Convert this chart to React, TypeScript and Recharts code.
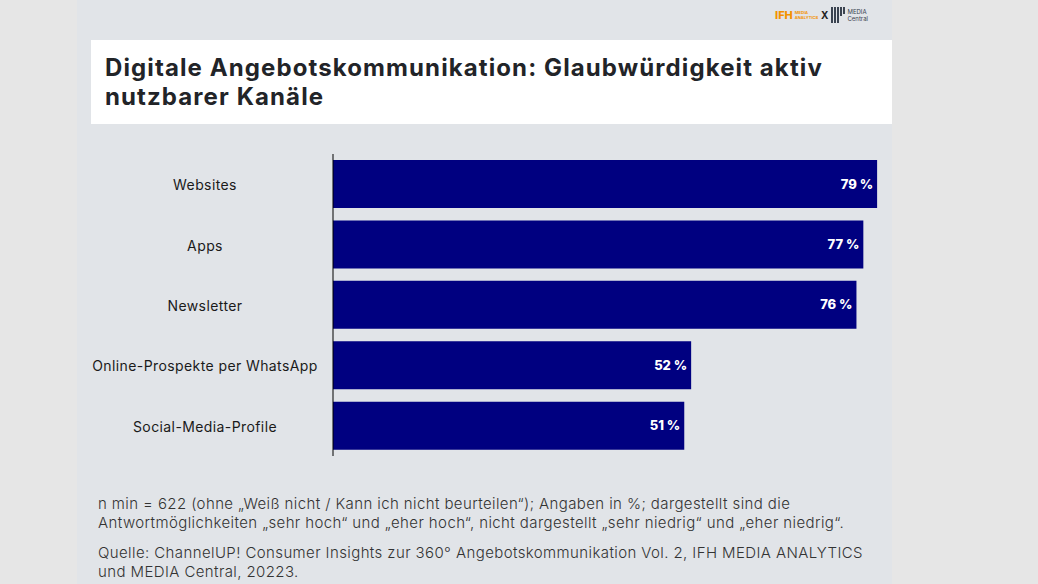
import React from "react";
import { Bar, BarChart, LabelList, XAxis, YAxis } from "recharts";

const channels = [
  "Websites",
  "Apps",
  "Newsletter",
  "Online-Prospekte per WhatsApp",
  "Social-Media-Profile"
];
const credibility = [79, 77, 76, 52, 51];

const rows = channels.map((channel, i) => ({ channel, value: credibility[i] }));

const titleText = "Digitale Angebotskommunikation: Glaubwürdigkeit aktiv nutzbarer Kanäle";
const noteLines = [
  "n min = 622 (ohne „Weiß nicht / Kann ich nicht beurteilen“); Angaben in %; dargestellt sind die",
  "Antwortmöglichkeiten „sehr hoch“ und „eher hoch“, nicht dargestellt „sehr niedrig“ und „eher niedrig“."
];
const sourceLines = [
  "Quelle: ChannelUP! Consumer Insights zur 360° Angebotskommunikation Vol. 2, IFH MEDIA ANALYTICS",
  "und MEDIA Central, 20223."
];

const font = "Inter, 'Noto Sans', sans-serif";

function CategoryTick(props: any) {
  const { y, payload } = props;
  return (
    <text
      x={127}
      y={y}
      dy={6}
      textAnchor="middle"
      fontSize={14}
      fontFamily={font}
      letterSpacing={0.4}
      fill="#1a1a1a"
    >
      {payload.value}
    </text>
  );
}

export default function App() {
  return (
    <div
      style={{
        position: "fixed",
        left: 0,
        top: 0,
        width: 1038,
        height: 584,
        background: "#e6e6e6",
        overflow: "hidden",
        fontFamily: font
      }}
    >
      <div style={{ position: "absolute", left: 77, top: 0, width: 815, height: 584, background: "#e1e4e8" }} />

      {/* logos */}
      <div style={{ position: "absolute", left: 775, top: 7, display: "flex", alignItems: "center", gap: 2 }}>
        <span style={{ color: "#f39200", fontWeight: 800, fontSize: 11 }}>IFH</span>
        <span style={{ color: "#f39200", fontSize: 4, lineHeight: "5px", fontWeight: 700 }}>
          MEDIA
          <br />
          ANALYTICS
        </span>
        <span style={{ color: "#222", fontSize: 10, fontWeight: 700, margin: "0 1px" }}>X</span>
        <span style={{ display: "flex", gap: 1, alignItems: "flex-start", height: 16 }}>
          <span style={{ width: 2, height: 16, background: "#3a4350" }} />
          <span style={{ width: 2, height: 16, background: "#3a4350" }} />
          <span style={{ width: 2, height: 16, background: "#3a4350" }} />
          <span style={{ width: 2, height: 9, background: "#3a4350" }} />
          <span style={{ width: 2, height: 7, background: "#3a4350" }} />
        </span>
        <span style={{ color: "#3a4350", fontSize: 6, lineHeight: "7px" }}>
          MEDIA
          <br />
          Central
        </span>
      </div>

      {/* title */}
      <div
        style={{
          position: "absolute",
          left: 91,
          top: 40,
          width: 801,
          height: 84,
          background: "#ffffff"
        }}
      >
        <div
          style={{
            position: "absolute",
            left: 14,
            top: 13,
            width: 760,
            fontSize: 24,
            lineHeight: "29px",
            fontWeight: 700,
            letterSpacing: 1.1,
            color: "#222428"
          }}
        >
          {titleText}
        </div>
      </div>

      <div style={{ position: "absolute", left: 78, top: 150 }}>
        <BarChart
          width={814}
          height={310}
          data={rows}
          layout="vertical"
          margin={{ top: 4, right: 8, bottom: 4, left: 0 }}
          barCategoryGap="10%"
        >
          <XAxis type="number" domain={[0, 80]} hide />
          <YAxis
            type="category"
            dataKey="channel"
            width={255}
            axisLine={{ stroke: "#000000", strokeWidth: 1 }}
            tickLine={false}
            tick={<CategoryTick />}
          />
          <Bar dataKey="value" fill="#000080" isAnimationActive={false}>
            <LabelList
              dataKey="value"
              position="insideRight"
              offset={4}
              fill="#ffffff"
              fontSize={13}
              fontWeight={800}
              fontFamily={font}
              formatter={(v: any) => `${v} %`}
            />
          </Bar>
        </BarChart>
      </div>

      {/* notes */}
      <div
        style={{
          position: "absolute",
          left: 98,
          top: 494,
          fontSize: 15,
          lineHeight: "19px",
          fontWeight: 300,
          letterSpacing: 0.4,
          color: "#333",
          whiteSpace: "pre"
        }}
      >
        {noteLines.join("\n")}
      </div>
      <div
        style={{
          position: "absolute",
          left: 98,
          top: 543,
          fontSize: 15,
          lineHeight: "19px",
          fontWeight: 300,
          letterSpacing: 0.4,
          color: "#333",
          whiteSpace: "pre"
        }}
      >
        {sourceLines.join("\n")}
      </div>
    </div>
  );
}
